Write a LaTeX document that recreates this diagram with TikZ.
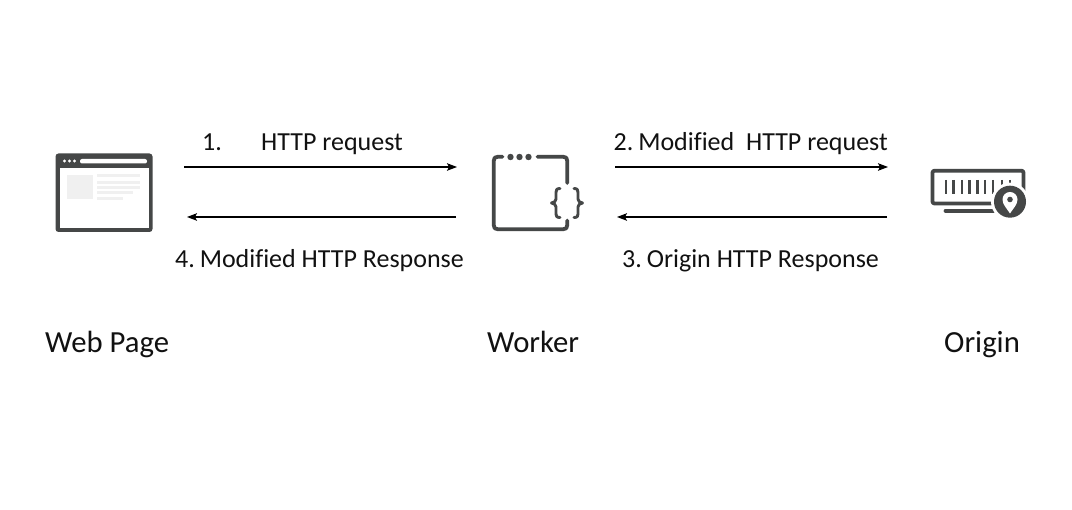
\documentclass[tikz,border=0pt]{standalone}
\usepackage{fontspec}
\setmainfont{Carlito}[Ligatures=NoCommon]
\usetikzlibrary{arrows.meta}
\definecolor{icon}{HTML}{454747}
\definecolor{pale}{HTML}{F0F0F0}
\definecolor{txt}{HTML}{111111}
\tikzset{
  x=1pt,y=-1pt,
  flow/.style={draw=black,line width=1.2pt,-{Stealth[length=10pt,width=7.5pt,inset=2pt]}},
  lab/.style={inner sep=0pt,text=txt,font=\fontsize{26}{28}\selectfont},
  title/.style={inner sep=0pt,text=txt,font=\fontsize{30.7}{32}\selectfont},
  stroke/.style={draw=icon,line width=3.8pt,line cap=round,line join=round},
  brace/.style={draw=icon,line width=2.9pt,line cap=round,line join=round},
}
\begin{document}
\begin{tikzpicture}
\useasboundingbox (0,0) rectangle (1072,510);
\fill[white] (0,0) rectangle (1072,510);

% Browser window icon
\fill[icon,rounded corners=3pt] (55.5,153.5) rectangle (152.5,232);
\fill[white] (59.5,168.5) rectangle (148.5,228);
\fill[white,rounded corners=2pt] (80,159) rectangle (147,163.5);
\foreach \px in {64.5,69.5,74.5} \fill[white] (\px,161) circle (1.6);
\fill[pale] (67,175) rectangle (93,199);
\foreach \py/\pe in {176/140,182.5/140,188/140,193/133,198.5/123}
  \fill[pale] (97,\py-1.5) rectangle (\pe,\py+1.5);

% Worker icon: open frame with braces
\draw[stroke] (502.5,156.7) -- (498,156.7) .. controls (495,156.7) and (493.7,158) .. (493.7,161)
  -- (493.7,225) .. controls (493.7,228) and (495,229.3) .. (498,229.3)
  -- (563,229.3) .. controls (566,229.3) and (567.3,228) .. (567.3,225) -- (567.3,220.5);
\draw[stroke] (537.5,156.7) -- (563,156.7) .. controls (566,156.7) and (567.3,158) .. (567.3,161) -- (567.3,183);
\foreach \px in {510.5,519.5,528.5} \fill[icon] (\px,157) circle (3.2);
\draw[brace]
  (560,188.5) .. controls (556.5,188.5) and (556,190) .. (556,192.5) -- (556,199) .. controls (556,201.5) and (554,202.5) .. (551.5,203)
  .. controls (554,203.5) and (556,204.5) .. (556,207) -- (556,214) .. controls (556,216) and (556.5,217.5) .. (560,217.5);
\draw[brace]
  (574,188.5) .. controls (577.5,188.5) and (578,190) .. (578,192.5) -- (578,199) .. controls (578,201.5) and (580,202.5) .. (582.5,203)
  .. controls (580,203.5) and (578,204.5) .. (578,207) -- (578,214) .. controls (578,216) and (577.5,217.5) .. (574,217.5);

% Origin server icon with location pin
\draw[stroke,rounded corners=2pt] (932.5,170.7) rectangle (1023.5,203.5);
\foreach \px in {945.7,953.5,961.6,969.4,977.4,985.3,993.3,1001.6,1010}
  \draw[draw=icon,line width=2.2pt] (\px,180) -- (\px,194);
\draw[stroke] (945.5,210.7) -- (994,210.7);
\fill[white] (1010,201.7) circle (19);
\fill[icon] (1010,201.7) circle (16);
\fill[white] (1010,213.5) .. controls (1006.5,208) and (1002.5,204.5) .. (1002.5,199.5)
  .. controls (1002.5,195.3) and (1005.8,192) .. (1010,192)
  .. controls (1014.2,192) and (1017.5,195.3) .. (1017.5,199.5)
  .. controls (1017.5,204.5) and (1013.5,208) .. (1010,213.5) -- cycle;
\fill[icon] (1010,199.5) circle (2.8);

% Endpoints of the flow arrows
\coordinate (a1) at (184,167);
\coordinate (b1) at (457,167);
\coordinate (b4) at (456,217);
\coordinate (a4) at (187,217);
\coordinate (b2) at (615,167);
\coordinate (c2) at (888,167);
\coordinate (c3) at (887,217);
\coordinate (b3) at (617,217);
\draw[flow] (a1) -- (b1);
\draw[flow] (b4) -- (a4);
\draw[flow] (b2) -- (c2);
\draw[flow] (c3) -- (b3);

% Labels
\node[lab,anchor=base west] (n1) at (202,151) {1.};
\node[lab,anchor=base west] (l1) at (261,151) {HTTP request};
\node[lab,anchor=base west] (l2) at (613.5,151) {2.\kern-1pt\ Modified\ \ HTTP request};
\node[lab,anchor=base west] (l4) at (175,268) {4.\kern-1pt\ Modified HTTP Response};
\node[lab,anchor=base west] (l3) at (622,268) {3.\kern-1pt\ Origin HTTP Response};
\node[title,anchor=base west] (t1) at (45,353) {Web Page};
\node[title,anchor=base west] (t2) at (487,353) {Worker};
\node[title,anchor=base west] (t3) at (944,353) {Origin};
\end{tikzpicture}
\end{document}
